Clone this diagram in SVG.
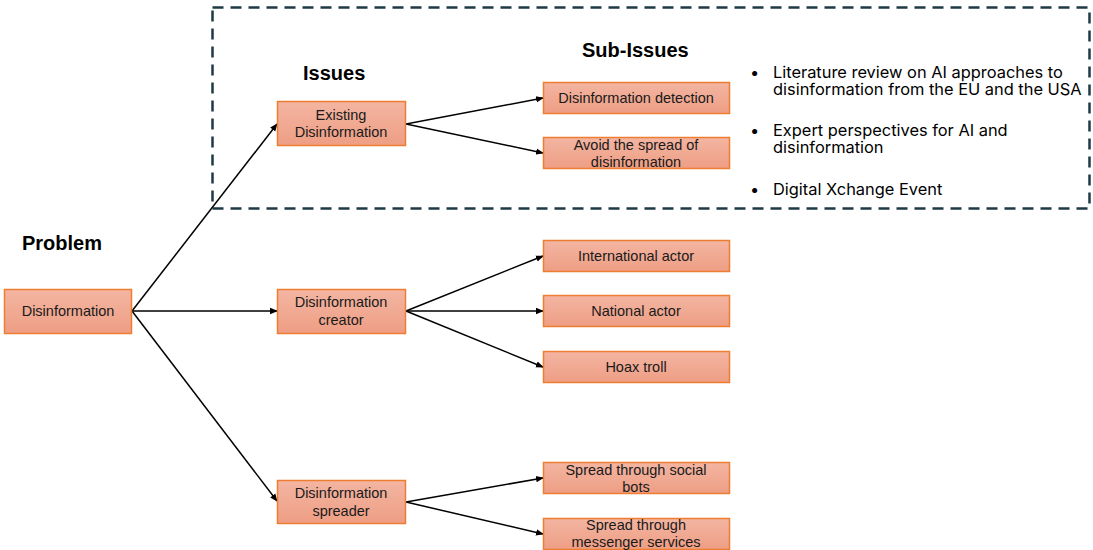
<svg xmlns="http://www.w3.org/2000/svg" width="1093" height="550" viewBox="0 0 1093 550">
<defs>
<linearGradient id="g" x1="0" y1="0" x2="0" y2="1">
<stop offset="0" stop-color="#f3b5a2"/>
<stop offset="1" stop-color="#ee9e84"/>
</linearGradient>
<marker id="ah" markerWidth="8" markerHeight="8" refX="7" refY="4" orient="auto" markerUnits="userSpaceOnUse">
<path d="M0,0.8 L8,4 L0,7.2 Z" fill="#000"/>
</marker>
</defs>
<style>
.box{fill:url(#g);stroke:#ed7d31;stroke-width:1.5}
.t{font-family:"Liberation Sans",Arial,sans-serif;font-size:14.5px;fill:#1a1a1a;text-anchor:middle}
.h{font-family:"Liberation Sans",Arial,sans-serif;font-size:20px;font-weight:bold;fill:#000}
.b{font-family:"Inter","Liberation Sans",sans-serif;font-size:16.4px;fill:#000}
.c line{stroke:#000;stroke-width:1.5;marker-end:url(#ah)}
</style>
<rect x="212.5" y="7.5" width="877" height="201" fill="none" stroke="#1e3a44" stroke-width="2.5" stroke-dasharray="11,7"/>
<text class="h" x="22" y="250">Problem</text>
<text class="h" x="303" y="80">Issues</text>
<text class="h" x="582" y="57">Sub-Issues</text>
<g id="bullets">
<text class="b" x="750" y="78">•</text>
<text class="b" x="773" y="78">Literature review on AI approaches to<tspan x="773" dy="16.5">disinformation from the EU and the USA</tspan></text>
<text class="b" x="750" y="136">•</text>
<text class="b" x="773" y="136">Expert perspectives for AI and<tspan x="773" dy="16.5">disinformation</tspan></text>
<text class="b" x="750" y="195">•</text>
<text class="b" x="773" y="195">Digital Xchange Event</text>
</g>
<g class="c" id="connectors">
<line x1="132" y1="311" x2="277" y2="124"/>
<line x1="132" y1="311" x2="277" y2="311"/>
<line x1="132" y1="311" x2="277" y2="501"/>
<line x1="406" y1="124" x2="543" y2="98"/>
<line x1="406" y1="124" x2="543" y2="153"/>
<line x1="406" y1="311" x2="543" y2="256"/>
<line x1="406" y1="311" x2="543" y2="311"/>
<line x1="406" y1="311" x2="543" y2="367"/>
<line x1="406" y1="502" x2="543" y2="478"/>
<line x1="406" y1="502" x2="543" y2="534"/>
</g>
<g id="n-disinfo"><rect class="box" x="4.5" y="289.5" width="127" height="44"/><text class="t" x="68" y="316">Disinformation</text></g>
<g id="n-existing"><rect class="box" x="277.5" y="101.5" width="128" height="44"/><text class="t" x="341" y="120">Existing</text><text class="t" x="341" y="137">Disinformation</text></g>
<g id="n-creator"><rect class="box" x="277.5" y="289.5" width="128" height="44"/><text class="t" x="341" y="307">Disinformation</text><text class="t" x="341" y="325">creator</text></g>
<g id="n-spreader"><rect class="box" x="277.5" y="480.5" width="128" height="43"/><text class="t" x="341" y="498">Disinformation</text><text class="t" x="341" y="516">spreader</text></g>
<g id="n-detect"><rect class="box" x="543.5" y="82.5" width="186" height="31"/><text class="t" x="636" y="103">Disinformation detection</text></g>
<g id="n-avoid"><rect class="box" x="543.5" y="137.5" width="186" height="31"/><text class="t" x="636" y="150">Avoid the spread of</text><text class="t" x="636" y="167">disinformation</text></g>
<g id="n-intl"><rect class="box" x="543.5" y="240.5" width="186" height="31"/><text class="t" x="636" y="261">International actor</text></g>
<g id="n-natl"><rect class="box" x="543.5" y="295.5" width="186" height="31"/><text class="t" x="636" y="316">National actor</text></g>
<g id="n-hoax"><rect class="box" x="543.5" y="351.5" width="186" height="31"/><text class="t" x="636" y="372">Hoax troll</text></g>
<g id="n-bots"><rect class="box" x="543.5" y="462.5" width="186" height="31"/><text class="t" x="636" y="475">Spread through social</text><text class="t" x="636" y="492">bots</text></g>
<g id="n-msg"><rect class="box" x="543.5" y="518.5" width="186" height="31"/><text class="t" x="636" y="530">Spread through</text><text class="t" x="636" y="547">messenger services</text></g>
</svg>
